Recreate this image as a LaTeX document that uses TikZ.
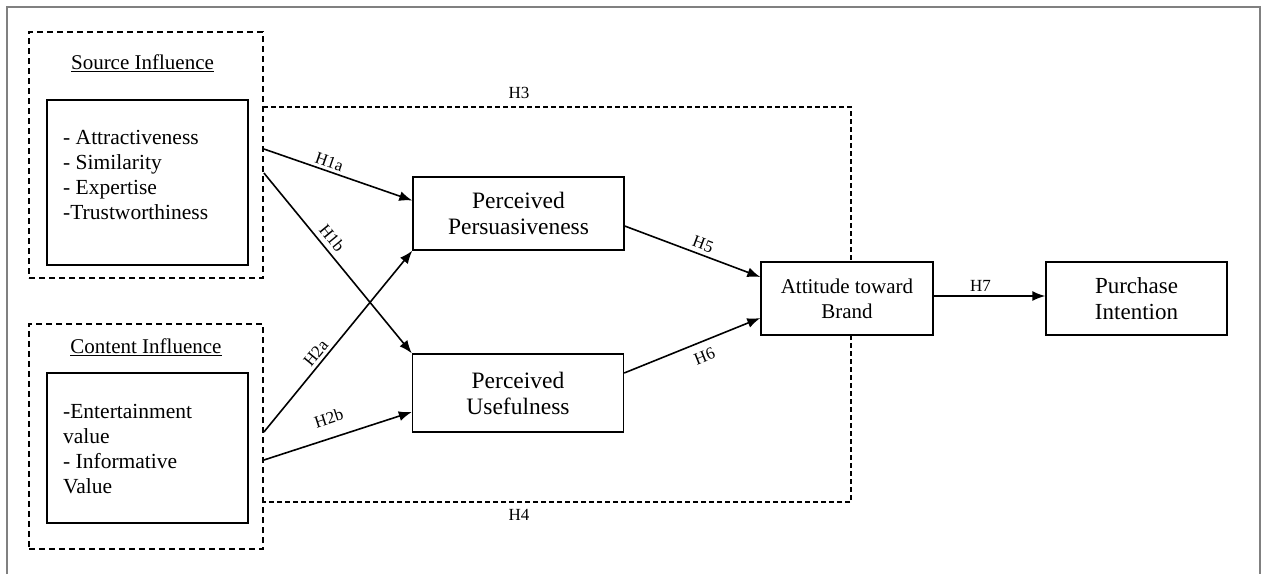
\documentclass[tikz,border=0pt]{standalone}
\usepackage{fontspec}
\setmainfont{Liberation Serif}
\usetikzlibrary{arrows.meta}

\begin{document}
\begin{tikzpicture}[x=1pt, y=-1pt,
    caja/.style={draw, line width=1.4pt, fill=white, inner sep=0pt, align=center},
    grupo/.style={draw, line width=1.8pt, dash pattern=on 6pt off 4pt, inner sep=0pt},
    hipo/.style={line width=1.1pt, dash pattern=on 5pt off 3pt},
    flecha/.style={line width=1.6pt, -{Latex[length=13pt,width=10pt]}},
    etiq/.style={font=\fontsize{17}{20}\selectfont, sloped, inner sep=1pt},
    hlabel/.style={font=\fontsize{17}{20}\selectfont, inner sep=0pt},
    lista/.style={anchor=west, align=left, inner sep=0pt, font=\fontsize{21.5}{25}\selectfont},
    titulo/.style={inner sep=0pt, font=\fontsize{21}{25}\selectfont}]

    \useasboundingbox (0,0) rectangle (1266,574);

    % Marco
    \draw[line width=1.4pt, gray] (7,574) -- (7,7) -- (1260,7) -- (1260,574);

    % Hipotesis H3 y H4
    \draw[hipo] (263,107) -- (851,107) -- (851,502) -- (263,502);
    \node[hlabel] (h3) at (519,93) {H3};
    \node[hlabel] (h4) at (519,515) {H4};

    % Grupos
    \node[grupo, minimum width=234pt, minimum height=246pt] (srcouter) at (146,155) {};
    \node[caja, minimum width=201pt, minimum height=165pt] (srcinner) at (147.5,182.5) {};
    \node[titulo] (srctitle) at (142.5,63) {\underline{Source Influence}};
    \node[lista] (srclist) at (63,174.5) {- Attractiveness\\- Similarity\\- Expertise\\-Trustworthiness};

    \node[grupo, minimum width=234pt, minimum height=225pt] (cntouter) at (146,436.5) {};
    \node[caja, minimum width=201pt, minimum height=150pt] (cntinner) at (147.5,448) {};
    \node[titulo] (cnttitle) at (146,347) {\underline{Content Influence}};
    \node[lista] (cntlist) at (63,449) {-Entertainment\\value\\- Informative\\Value};

    % Variables
    \node[caja, minimum width=211pt, minimum height=73pt, font=\fontsize{23.5}{26}\selectfont] (persu) at (518.5,213.5) {Perceived\\Persuasiveness};
    \node[caja, minimum width=211pt, minimum height=78pt, font=\fontsize{23.5}{26}\selectfont] (useful) at (518,393) {Perceived\\Usefulness};
    \node[caja, minimum width=172pt, minimum height=73pt, font=\fontsize{21}{25}\selectfont] (attitude) at (847,298.5) {Attitude toward\\Brand};
    \node[caja, minimum width=181pt, minimum height=73pt, font=\fontsize{23}{26}\selectfont] (purchase) at (1136.5,298.5) {Purchase\\Intention};

    % Conexiones
    \draw[flecha] ([yshift=6pt]srcouter.east) -- node[etiq, above=2pt, pos=0.42] {H1a} ([yshift=13pt]persu.west);
    \draw[flecha] ([yshift=-18pt]srcouter.east) -- node[etiq, above=4pt, pos=0.4] {H1b} (useful.north west);
    \draw[flecha] ([yshift=4.5pt]cntouter.east) -- node[etiq, above=2pt, pos=0.4] {H2a} (persu.south west);
    \draw[flecha] ([yshift=-23.5pt]cntouter.east) -- node[etiq, above=12pt, pos=0.48] {H2b} ([yshift=-19pt]useful.west);

    \draw[flecha] ([yshift=-12.5pt]persu.east) -- node[etiq, above=3pt, pos=0.55] {H5} ([yshift=21.5pt]attitude.west);
    \draw[flecha] ([yshift=20pt]useful.east) -- node[etiq, below=7pt, pos=0.55] {H6} ([yshift=-19.5pt]attitude.west);
    \draw[flecha] ([yshift=2.5pt]attitude.east) -- node[etiq, above=3pt, pos=0.42] {H7} ([yshift=2.5pt]purchase.west);

\end{tikzpicture}
\end{document}
